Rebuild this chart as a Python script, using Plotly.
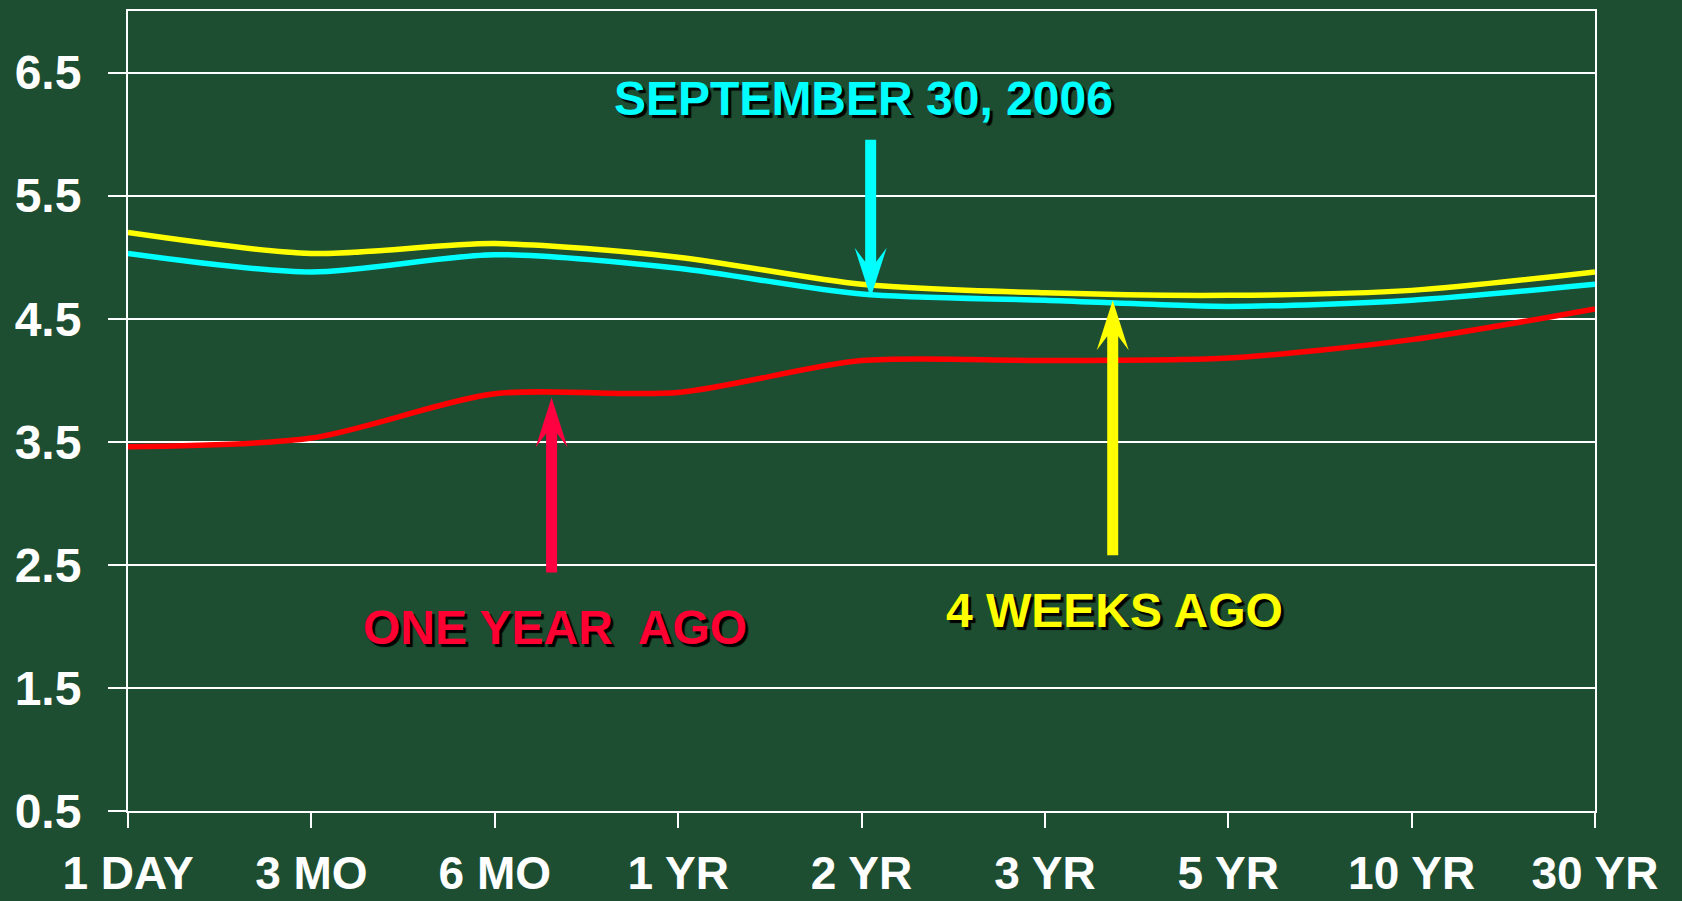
import plotly.graph_objects as go

# ---------------- data ----------------
TENORS = ["1 DAY", "3 MO", "6 MO", "1 YR", "2 YR", "3 YR", "5 YR", "10 YR", "30 YR"]
SEP_30_2006 = [5.03, 4.88, 5.02, 4.91, 4.70, 4.65, 4.60, 4.65, 4.78]
FOUR_WEEKS_AGO = [5.20, 5.03, 5.11, 5.00, 4.78, 4.71, 4.69, 4.73, 4.88]
ONE_YEAR_AGO = [3.46, 3.53, 3.89, 3.90, 4.16, 4.16, 4.18, 4.33, 4.58]
Y_TICKS = [0.5, 1.5, 2.5, 3.5, 4.5, 5.5, 6.5]

# annotation anchors (x in tenor index units, y in yield units)
LABEL_SEP = ("SEPTEMBER 30, 2006", 4.01, 6.29)
LABEL_4W = ("4 WEEKS AGO", 5.38, 2.13)
LABEL_1Y = ("ONE YEAR\u00a0 AGO", 2.33, 1.99)
ARROW_SEP = (4.05, 4.67)   # tip, arrow points down
ARROW_4W = (5.37, 4.65)    # tip, arrow points up
ARROW_1Y = (2.31, 3.86)    # tip, arrow points up

BG = "#1e4e32"
CYAN = "#00FFFF"
YELLOW = "#FFFF00"
RED = "#FF0000"
RED_TXT = "#FF0033"
FONT = "Liberation Sans, Arial, sans-serif"

x = list(range(len(TENORS)))

fig = go.Figure()
for name, vals, col in [("4 weeks ago", FOUR_WEEKS_AGO, YELLOW),
                        ("September 30, 2006", SEP_30_2006, CYAN),
                        ("One year ago", ONE_YEAR_AGO, RED)]:
    fig.add_trace(go.Scatter(x=x, y=vals, mode="lines", name=name,
                             line=dict(color=col, width=5.5, shape="spline", smoothing=0.8),
                             hoverinfo="skip"))


def arrow_path(length, down):
    s = 1 if down else -1
    pts = [(0, 0), (-16, 50), (-5.5, 36), (-5.5, length), (5.5, length), (5.5, 36), (16, 50)]
    return "M" + " L".join(f"{px},{s * py}" for px, py in pts) + " Z"


shapes = []
for (ax_, ay_), length, down, col in [(ARROW_SEP, 158, True, CYAN),
                                       (ARROW_4W, 255, False, YELLOW),
                                       (ARROW_1Y, 175, False, "#FF0040")]:
    shapes.append(dict(type="path", xref="x", yref="y", xsizemode="pixel", ysizemode="pixel",
                       xanchor=ax_, yanchor=ay_, path=arrow_path(length, down),
                       fillcolor=col, line=dict(width=0), layer="above"))

annotations = []
for (txt, ax_, ay_), col in [(LABEL_SEP, CYAN), (LABEL_4W, YELLOW), (LABEL_1Y, RED_TXT)]:
    annotations.append(dict(x=ax_, y=ay_, xref="x", yref="y", text=txt, showarrow=False,
                            xanchor="center", yanchor="middle",
                            font=dict(family=FONT, size=48, color=col, weight="bold",
                                      shadow="3px 3px 1px #000000")))

axis_common = dict(showline=True, linecolor="white", linewidth=2, mirror=True,
                   ticks="outside", tickcolor="white", tickwidth=2, automargin=False,
                   zeroline=False)

fig.update_layout(
    width=1682, height=901,
    margin=dict(l=128, r=87, t=11, b=90),
    paper_bgcolor=BG, plot_bgcolor=BG,
    showlegend=False,
    shapes=shapes, annotations=annotations,
    xaxis=dict(range=[0, len(TENORS) - 1], tickvals=x, ticktext=TENORS, showgrid=False,
               ticklen=15, ticklabelstandoff=6,
               tickfont=dict(family=FONT, size=46, color="white", weight="bold"),
               **axis_common),
    yaxis=dict(range=[0.5, 7.0], tickvals=Y_TICKS, ticktext=[f"{v:.1f}" for v in Y_TICKS],
               showgrid=True, gridcolor="white", gridwidth=2, ticklen=18,
               ticklabelstandoff=17,
               tickfont=dict(family=FONT, size=48, color="white", weight="bold"),
               **axis_common),
)

fig.write_html("out.html", config={"displayModeBar": False},
               post_script="document.body.style.margin='0';"
                           "document.body.style.background='" + BG + "';")
